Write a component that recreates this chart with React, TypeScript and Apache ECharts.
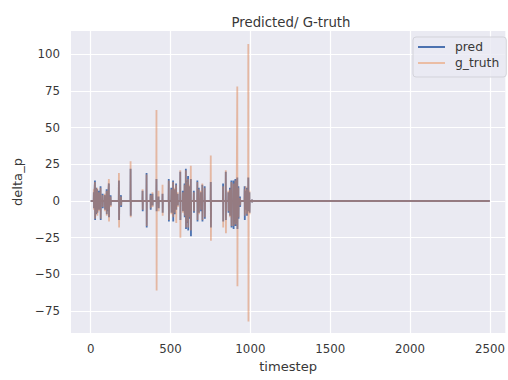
import React, { useEffect, useRef } from "react";
import * as echarts from "echarts";

// Tick labels
const xTicks = [0, 500, 1000, 1500, 2000, 2500];
const yTicks = [-75, -50, -25, 0, 25, 50, 75, 100];

// Timesteps of the oscillation events (each event: up value at t, down value at t+1)
const eventSteps = [
  20, 27, 34, 41, 52, 62, 75, 89, 100, 107, 114, 125, 177, 190, 250, 325, 350, 375, 387, 412,
  425, 450, 489, 505, 516, 526, 535, 545, 561, 577, 588, 596, 603, 610, 618, 627, 646, 668,
  677, 690, 699, 714, 752, 829, 846, 862, 872, 881, 894, 900, 906, 912, 918, 925, 935, 964,
  970, 978, 987, 994, 1010,
];
const predUp = [
  6, 14, 9, 8, 7, 10, 5, 4, 8, 6, 12, 4, 14, 4, 22, 7, 19, 5, 5, 15,
  3, 5, 15, 9, 14, 8, 12, 5, 20, 7, 12, 22, 14, 17, 10, 15, 7, 14,
  9, 6, 11, 10, 13, 12, 20, 6, 9, 14, 14, 12, 15, 13, 16, 10, 3, 10,
  7, 9, 16, 6, 1,
];
const predDown = [
  -5, -13, -9, -8, -6, -13, -5, -6, -9, -7, -11, -3, -13, -4, -10, -7, -18, -6, -3, -7,
  -5, -8, -14, -8, -14, -9, -6, -3, -13, -7, -11, -19, -15, -20, -12, -24, -8, -14,
  -8, -7, -14, -12, -18, -14, -13, -8, -10, -18, -19, -14, -17, -15, -19, -12, -4, -13,
  -6, -10, -7, -8, -1,
];
const truthUp = [
  8, 13, 8, 9, 6, 9, 4, 5, 7, 7, 15, 3, 19, 3, 27, 8, 18, 4, 6, 62,
  7, 11, 14, 8, 13, 9, 11, 6, 21, 6, 11, 21, 13, 15, 11, 24, 6, 13,
  8, 7, 12, 9, 31, 10, 21, 7, 8, 13, 12, 11, 14, 12, 78, 9, 2, 8,
  10, 8, 107, 7, 1,
];
const truthDown = [
  -6, -12, -8, -10, -7, -12, -4, -7, -10, -6, -14, -4, -18, -3, -11, -6, -17, -5, -4, -61,
  -7, -10, -13, -9, -11, -8, -15, -4, -25, -8, -10, -18, -14, -18, -11, -20, -7, -13,
  -9, -6, -13, -11, -27, -18, -22, -7, -11, -17, -17, -13, -16, -14, -58, -11, -3, -10,
  -8, -9, -82, -9, -1,
];
const firstStep = 0;
const lastStep = 2499;

function buildSeries(up: number[], down: number[]) {
  const pts: number[][] = [[firstStep, 0]];
  eventSteps.forEach((t, i) => {
    pts.push([t - 1, 0], [t, up[i]], [t + 1, down[i]], [t + 2, 0]);
  });
  pts.push([lastStep, 0]);
  return pts;
}

const FONT = "DejaVu Sans";
const TXT = "#383838";
const minus = (v: number) => String(v).replace("-", "\u2212");

export default function App() {
  const ref = useRef<HTMLDivElement>(null);
  useEffect(() => {
    if (!ref.current) return;
    const chart = echarts.init(ref.current, undefined, { renderer: "svg" });
    chart.setOption({
      animation: false,
      backgroundColor: "#ffffff",
      title: {
        text: "Predicted/ G-truth",
        left: 286,
        top: 11,
        textAlign: "center",
        textStyle: { fontFamily: FONT, fontSize: 13.3, fontWeight: "normal", color: TXT },
      },
      legend: {
        orient: "vertical",
        left: 413,
        top: 37,
        padding: [4, 7, 8, 5],
        itemGap: 4,
        itemWidth: 27,
        itemHeight: 2,
        icon: "rect",
        backgroundColor: "rgba(234,234,242,0.8)",
        borderColor: "#d3d3da",
        borderWidth: 1,
        borderRadius: 3,
        textStyle: { fontFamily: FONT, fontSize: 12.3, color: TXT, padding: [0, 0, 0, 5] },
        data: [
          { name: "pred", itemStyle: { color: "#4C72B0" } },
          { name: "g_truth", itemStyle: { color: "#EBBDA4" } },
        ],
      },
      grid: { left: 71, right: 2, top: 31, bottom: 47, show: true, backgroundColor: "#EAEAF2", borderWidth: 0 },
      xAxis: {
        type: "value",
        min: -123,
        max: 2596,
        name: "timestep",
        nameLocation: "middle",
        nameGap: 26,
        nameTextStyle: { fontFamily: FONT, fontSize: 13.1, color: TXT },
        axisLine: { show: false },
        axisTick: { show: false, customValues: xTicks },
        axisLabel: { customValues: xTicks, fontFamily: FONT, fontSize: 11.8, color: TXT, margin: 10, formatter: minus },
        splitLine: { show: true, lineStyle: { color: "#ffffff", width: 1.2 } },
      },
      yAxis: {
        type: "value",
        min: -89.9,
        max: 115.8,
        name: "delta_p",
        nameLocation: "middle",
        nameGap: 34,
        nameRotate: 90,
        nameTextStyle: { fontFamily: FONT, fontSize: 13.1, color: TXT },
        axisLine: { show: false },
        axisTick: { show: false, customValues: yTicks },
        axisLabel: { customValues: yTicks, fontFamily: FONT, fontSize: 11.8, color: TXT, margin: 11, formatter: minus },
        splitLine: { show: true, lineStyle: { color: "#ffffff", width: 1.2 } },
      },
      series: [
        {
          name: "pred",
          type: "line",
          data: buildSeries(predUp, predDown),
          showSymbol: false,
          symbol: "none",
          lineStyle: { color: "#4C72B0", width: 1.8 },
          itemStyle: { color: "#4C72B0" },
        },
        {
          name: "g_truth",
          type: "line",
          data: buildSeries(truthUp, truthDown),
          showSymbol: false,
          symbol: "none",
          lineStyle: { color: "#DD8452", width: 1.8, opacity: 0.5 },
          itemStyle: { color: "#DD8452" },
        },
      ],
    });
    return () => chart.dispose();
  }, []);
  return <div ref={ref} style={{ position: "fixed", left: 0, top: 0, width: 508, height: 380 }} />;
}
